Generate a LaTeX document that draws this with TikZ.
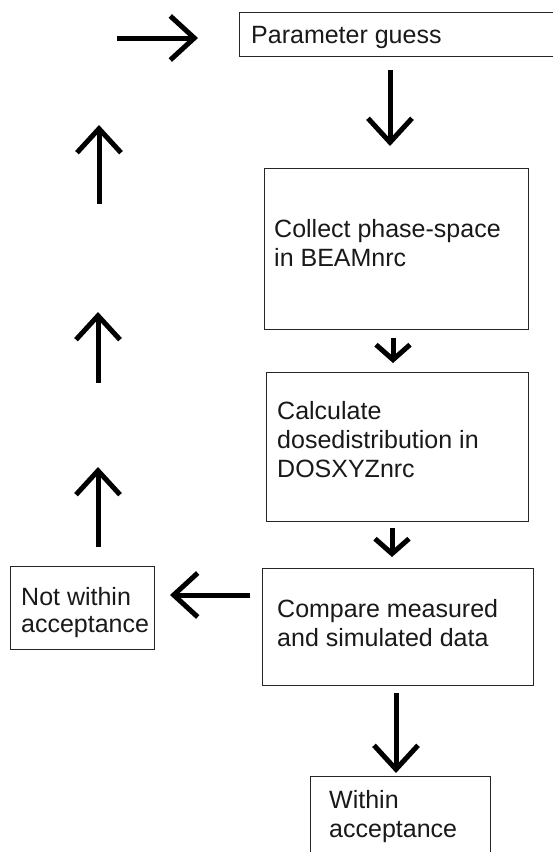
\documentclass[tikz,border=0pt]{standalone}
\usepackage{fontspec}
\setmainfont{Liberation Sans}
\usetikzlibrary{arrows.meta}
\tikzset{
  box/.style={draw=black!85, line width=1.3pt, rectangle, inner sep=0pt, anchor=north west},
  txt/.style={anchor=base west, inner sep=0pt, align=left, font=\fontsize{25}{29}\selectfont, text=black!90},
  bigarrow/.style={line width=5pt, -{Straight Barb[length=24pt, width=44pt, line width=5pt]}},
  smallarrow/.style={line width=5pt, -{Straight Barb[length=15pt, width=34pt, line width=5pt]}}
}
\begin{document}
\begin{tikzpicture}[x=1pt, y=-1pt]
\useasboundingbox[fill=white] (0,0) rectangle (553,852);
% boxes
\node[box, minimum width=322pt, minimum height=44pt] (param) at (239,12) {};
\node[box, minimum width=264pt, minimum height=161pt] (collect) at (264,168) {};
\node[box, minimum width=262pt, minimum height=149pt] (calc) at (266,372) {};
\node[box, minimum width=271pt, minimum height=117pt] (compare) at (262,568) {};
\node[box, minimum width=144pt, minimum height=83pt] (notw) at (10,566) {};
\node[box, minimum width=180pt, minimum height=90pt] (within) at (310,776) {};
% texts (anchor at the baseline of the last line)
\node[txt] (tparam) at (251,43) {Parameter guess};
\node[txt] (tcollect) at (274,266) {Collect phase-space\\in BEAMnrc};
\node[txt] (tcalc) at (277,477) {Calculate\\dosedistribution in\\DOSXYZnrc};
\node[txt] (tcompare) at (277,646) {Compare measured\\and simulated data};
\node[txt, font=\fontsize{25}{27}\selectfont] (tnotw) at (21,632) {Not within\\acceptance};
\node[txt] (twithin) at (329,837) {Within\\acceptance};
% arrow end points
\coordinate (a1s) at (117,38);  \coordinate (a1e) at (198,38);
\coordinate (a2s) at (390,70);  \coordinate (a2e) at (390,146);
\coordinate (a3s) at (393,338); \coordinate (a3e) at (393,363);
\coordinate (a4s) at (392,528); \coordinate (a4e) at (392,557);
\coordinate (a5s) at (250,595); \coordinate (a5e) at (170,595);
\coordinate (a6s) at (396,693); \coordinate (a6e) at (396,773);
\coordinate (u1s) at (99,204);  \coordinate (u1e) at (99,125);
\coordinate (u2s) at (98,383);  \coordinate (u2e) at (98,312);
\coordinate (u3s) at (98,547);  \coordinate (u3e) at (98,467);
% arrows
\draw[bigarrow] (a1s) -- (a1e);
\draw[bigarrow] (a2s) -- (a2e);
\draw[smallarrow] (a3s) -- (a3e);
\draw[smallarrow] (a4s) -- (a4e);
\draw[bigarrow] (a5s) -- (a5e);
\draw[bigarrow] (a6s) -- (a6e);
\draw[bigarrow] (u1s) -- (u1e);
\draw[bigarrow] (u2s) -- (u2e);
\draw[bigarrow] (u3s) -- (u3e);
\end{tikzpicture}
\end{document}
